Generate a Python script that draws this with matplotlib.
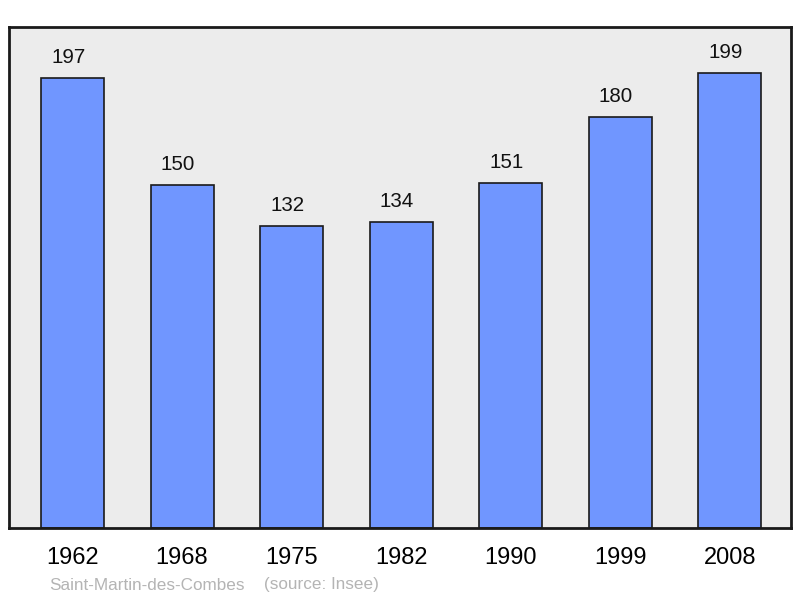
import matplotlib.pyplot as plt

plt.rcParams['font.family'] = ['Liberation Sans', 'DejaVu Sans']

years = ['1962', '1968', '1975', '1982', '1990', '1999', '2008']
population = [197, 150, 132, 134, 151, 180, 199]
place = 'Saint-Martin-des-Combes'
source = '(source: Insee)'

fig = plt.figure(figsize=(8, 5.98), dpi=100)
ax = fig.add_axes([9 / 800, 70 / 598, 782 / 800, 501 / 598])
ax.set_facecolor('#ececec')

x = range(len(years))
ax.bar(x, population, width=0.575, color='#7096ff', edgecolor='#1a1a1a', linewidth=1.2, zorder=2)
for xi, v in zip(x, population):
    ax.annotate(str(v), (xi, v), xytext=(-3, 8), textcoords='offset points',
                ha='center', va='bottom', fontsize=14.8, color='#111111')

ax.set_xlim(-0.58, 6.56)
ax.set_ylim(0, 219.3)
ax.set_yticks([])
ax.set_xticks(list(x))
ax.set_xticklabels(years, fontsize=17)
ax.tick_params(axis='x', length=0, pad=14)
for s in ax.spines.values():
    s.set_linewidth(2)
    s.set_color('#1a1a1a')

fig.text(49 / 800, 1 - 585 / 598, place, fontsize=12.3, color='#b4b4b4', va='center', ha='left')
fig.text(264 / 800, 1 - 585 / 598, source, fontsize=12.3, color='#b4b4b4', va='center', ha='left')

fig.savefig('out.png', dpi=100)
